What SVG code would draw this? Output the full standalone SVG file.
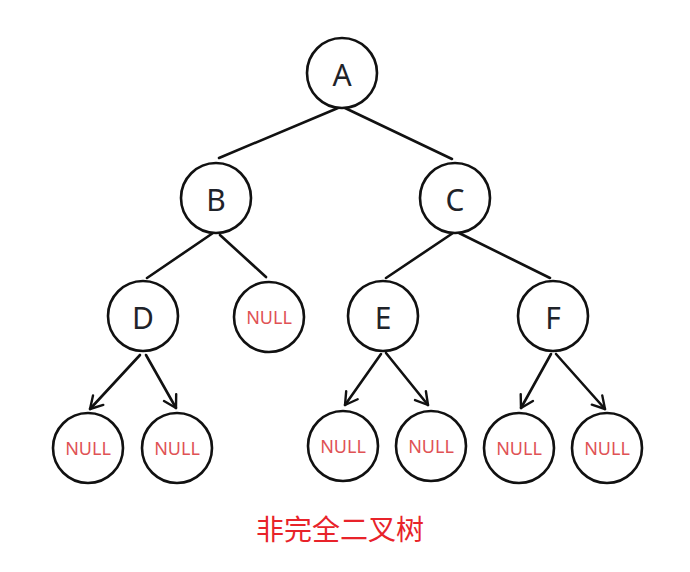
<svg xmlns="http://www.w3.org/2000/svg" width="690" height="572" viewBox="0 0 690 572">
<defs>
<marker id="arr" markerUnits="userSpaceOnUse" markerWidth="20" markerHeight="20" refX="14" refY="8" orient="auto" viewBox="0 0 20 16">
<path d="M2,1 L14,8 L2,15" fill="none" stroke="#111" stroke-width="2.4" stroke-linecap="round" stroke-linejoin="round"/>
</marker>
<style>
.n{fill:#fff;stroke:#111;stroke-width:2.6}
.l{font-family:"Noto Sans","DejaVu Sans",sans-serif;font-size:30px;fill:#1f2329;text-anchor:middle;dominant-baseline:central}
.z{font-family:"Noto Sans","DejaVu Sans",sans-serif;font-size:18px;fill:#e05255;text-anchor:middle;dominant-baseline:central}
.e{stroke:#111;stroke-width:2.6;fill:none;stroke-linecap:round}
.t{font-family:"Noto Sans CJK SC",sans-serif;font-size:28px;fill:#e8232a;text-anchor:middle}
</style>
</defs>
<rect width="690" height="572" fill="#fff"/>
<g id="edges">
<line class="e" x1="338" y1="108" x2="219" y2="158"/>
<line class="e" x1="345" y1="108" x2="452" y2="159"/>
<line class="e" x1="213" y1="233" x2="147" y2="278"/>
<line class="e" x1="220" y1="235" x2="266" y2="277"/>
<line class="e" x1="453" y1="233" x2="386" y2="278"/>
<line class="e" x1="459" y1="233" x2="550" y2="278"/>
<line class="e" x1="140" y1="355" x2="90" y2="409" marker-end="url(#arr)"/>
<line class="e" x1="146" y1="355" x2="176" y2="408" marker-end="url(#arr)"/>
<line class="e" x1="381" y1="354" x2="345" y2="405" marker-end="url(#arr)"/>
<line class="e" x1="386" y1="353" x2="428" y2="405" marker-end="url(#arr)"/>
<line class="e" x1="551" y1="354" x2="521" y2="408" marker-end="url(#arr)"/>
<line class="e" x1="556" y1="354" x2="605" y2="409" marker-end="url(#arr)"/>
</g>
<g id="A"><circle class="n" cx="342" cy="73" r="35"/><text class="l" x="342" y="74">A</text></g>
<g id="B"><circle class="n" cx="216" cy="198" r="35"/><text class="l" x="216" y="199">B</text></g>
<g id="C"><circle class="n" cx="455" cy="198" r="35"/><text class="l" x="455" y="199">C</text></g>
<g id="D"><circle class="n" cx="143" cy="316" r="35"/><text class="l" x="143" y="317">D</text></g>
<g id="NULL_B"><circle class="n" cx="269" cy="317" r="35"/><text class="z" x="269" y="317">NULL</text></g>
<g id="E"><circle class="n" cx="383" cy="316" r="35"/><text class="l" x="383" y="317">E</text></g>
<g id="F"><circle class="n" cx="553" cy="316" r="35"/><text class="l" x="553" y="317">F</text></g>
<g id="NULL_D1"><circle class="n" cx="88" cy="448" r="35"/><text class="z" x="88" y="448">NULL</text></g>
<g id="NULL_D2"><circle class="n" cx="177" cy="448" r="35"/><text class="z" x="177" y="448">NULL</text></g>
<g id="NULL_E1"><circle class="n" cx="343" cy="446" r="35"/><text class="z" x="343" y="446">NULL</text></g>
<g id="NULL_E2"><circle class="n" cx="431" cy="446" r="35"/><text class="z" x="431" y="446">NULL</text></g>
<g id="NULL_F1"><circle class="n" cx="519" cy="448" r="35"/><text class="z" x="519" y="448">NULL</text></g>
<g id="NULL_F2"><circle class="n" cx="607" cy="448" r="35"/><text class="z" x="607" y="448">NULL</text></g>
<text class="t" x="340" y="540">非完全二叉树</text>
</svg>
